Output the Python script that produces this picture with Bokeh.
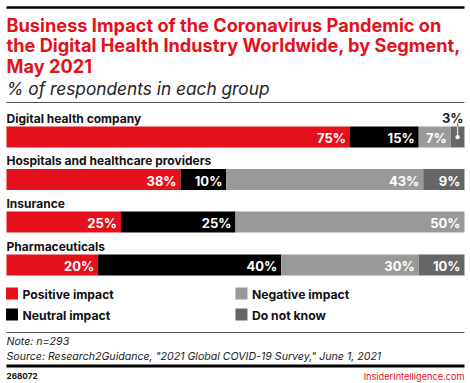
from bokeh.plotting import figure
from bokeh.models import Range1d, ColumnDataSource
from bokeh.core.properties import value
from bokeh.embed import file_html
from bokeh.resources import INLINE

# ---- data ----
categories = ["Digital health company", "Hospitals and healthcare providers",
              "Insurance", "Pharmaceuticals"]
positive = [75, 38, 25, 20]
neutral = [15, 10, 25, 40]
negative = [7, 43, 50, 30]
dont_know = [3, 9, 0, 10]
series_names = ["Positive impact", "Neutral impact", "Negative impact", "Do not know"]

title_lines = ["Business Impact of the Coronavirus Pandemic on",
               "the Digital Health Industry Worldwide, by Segment,",
               "May 2021"]
subtitle = "% of respondents in each group"
note = "Note: n=293"
source = 'Source: Research2Guidance, "2021 Global COVID-19 Survey," June 1, 2021'
chart_id = "268072"
brand = "InsiderIntelligence.com"

# ---- style ----
RED = "#e4111c"
COLORS = [RED, "#000000", "#999999", "#666666"]
FONT = "Inter"

W, H = 470, 383
PX = 4.58  # pixels per percent of bar width
p = figure(width=W, height=H, output_backend="svg", toolbar_location=None,
           x_range=Range1d(-6 / PX, 100 + 6 / PX), y_range=Range1d(H, 0),
           min_border=0, outline_line_color=None)
p.axis.visible = False
p.grid.visible = False
p.background_fill_color = "white"
p.border_fill_color = "white"


def txt(x, y, t, size, style="normal", color="#111111", align="left", **kw):
    p.text(x=x, y=y, text=t, text_font=value(FONT), text_font_size=size,
           text_font_style=style, text_color=color, text_align=align,
           text_baseline="middle", **kw)


# header
p.segment(x0=[0], x1=[100], y0=[7], y1=[7], line_color="black", line_width=2.5)
txt([0] * 3, [24, 44.5, 65], title_lines, "18.2px", "bold", RED)
txt([0], [87.5], [subtitle], "17.3px", "italic", "#222222")
p.segment(x0=[0], x1=[100], y0=[102], y1=[102], line_color="#555555", line_width=1)

# bars
bar_centers = [136.5, 179, 221.5, 264.5]
bar_h = 21
series = [positive, neutral, negative, dont_know]
left = [0.0] * len(categories)
seg_x, seg_y, seg_t = [], [], []
for k, vals in enumerate(series):
    right = [l + v for l, v in zip(left, vals)]
    src = ColumnDataSource(dict(y=bar_centers, left=left, right=right))
    p.hbar(y="y", left="left", right="right", height=bar_h, source=src,
           fill_color=COLORS[k], line_color=None)
    for i, v in enumerate(vals):
        if v >= 5:
            seg_x.append(right[i]); seg_y.append(bar_centers[i]); seg_t.append(f"{v}%")
    left = right

txt(seg_x, seg_y, seg_t, "13px", "bold", "white", "right", x_offset=-4, y_offset=1)

# category labels
label_y = [c - 19 for c in bar_centers]
txt([0] * 4, label_y, categories, "12px", "bold", "#111111")

# small segment (3%) label with leader
small_i = 0
small_mid = 100 - dont_know[small_i] / 2
txt([100], [label_y[small_i]], [f"{dont_know[small_i]}%"], "13px", "bold",
    "#222222", "right", x_offset=-1)
p.segment(x0=[small_mid], x1=[small_mid], y0=[label_y[small_i] + 5.5],
          y1=[bar_centers[small_i] - bar_h / 2], line_color="#444444", line_width=1)
p.segment(x0=[small_mid], x1=[small_mid], y0=[bar_centers[small_i] - bar_h / 2],
          y1=[bar_centers[small_i]], line_color="white", line_width=1)
p.scatter(x=[small_mid], y=[bar_centers[small_i]], size=4.5, marker="circle",
          fill_color="white", line_color=None)

# legend
leg_x = [1.2, 1.2, 51.3, 51.3]
leg_y = [293, 314, 293, 314]
p.scatter(x=leg_x, y=leg_y, marker="square", size=12, fill_color=COLORS,
          line_color=None)
txt(leg_x, leg_y, series_names, "12.2px", "bold", "#111111", x_offset=10.5, y_offset=1)

# footer
p.segment(x0=[0], x1=[100], y0=[332], y1=[332], line_color="#555555", line_width=1)
txt([0, 0], [340.5, 355.5], [note, source], "10.6px", "italic", "#222222")
p.segment(x0=[0], x1=[100], y0=[365.5], y1=[365.5], line_color="black", line_width=3)
txt([0], [375.5], [chart_id], "8.2px", "bold", "#111111")
txt([100], [375.5], [brand], "9.2px", "normal", RED, "right")

open("out.html", "w").write(file_html(p, INLINE))
